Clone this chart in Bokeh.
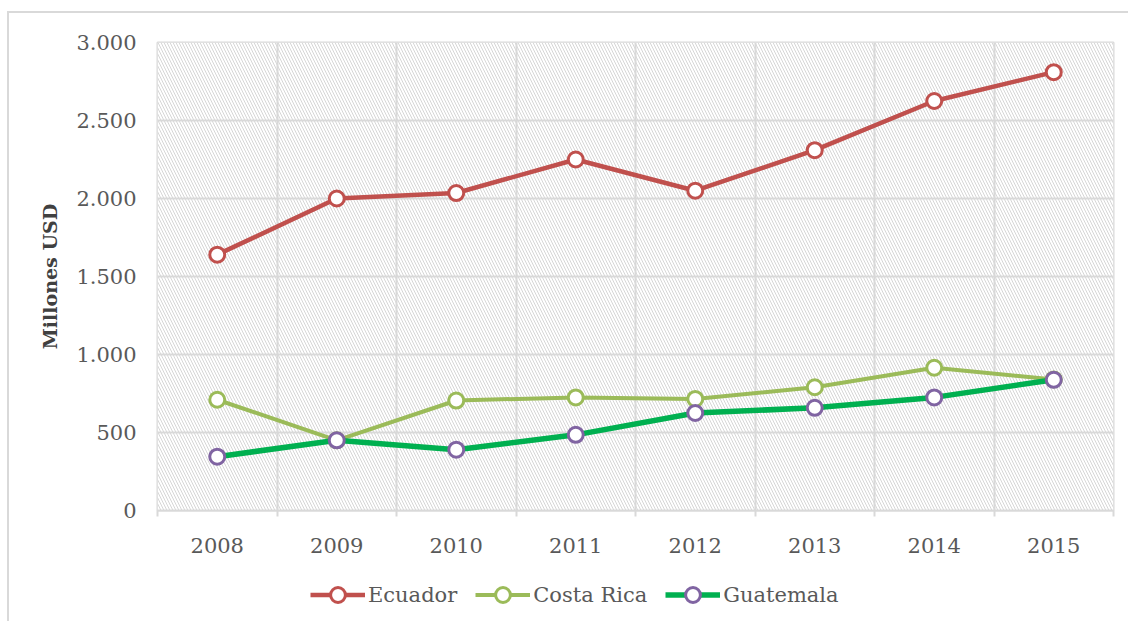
from bokeh.plotting import figure
from bokeh.layouts import column
from bokeh.models import (Range1d, FixedTicker, BoxAnnotation, Legend, LegendItem,
                          ColumnDataSource)
from bokeh.embed import file_html
from bokeh.resources import INLINE

years = ["2008", "2009", "2010", "2011", "2012", "2013", "2014", "2015"]
ecuador = [1640, 2000, 2035, 2250, 2050, 2310, 2625, 2810]
costa_rica = [710, 450, 705, 725, 715, 790, 915, 840]
guatemala = [345, 450, 390, 485, 625, 658, 725, 838]
y_ticks = [0, 500, 1000, 1500, 2000, 2500, 3000]
y_tick_labels = ["0", "500", "1.000", "1.500", "2.000", "2.500", "3.000"]
series_names = ["Ecuador", "Costa Rica", "Guatemala"]

FONT = "DejaVu Serif"
GRID = "#d9d9d9"

xpos = [i + 0.5 for i in range(len(years))]

p = figure(width=1119, height=555, output_backend="svg", toolbar_location=None,
           x_range=Range1d(0, len(years)), y_range=Range1d(0, 3000),
           frame_width=956, frame_height=468,
           min_border_left=148, min_border_top=29, min_border_right=15, min_border_bottom=58)
p.outline_line_color = GRID
p.outline_line_width = 2
p.background_fill_color = "white"
p.border_fill_color = "white"

# hatched plot background
bg = BoxAnnotation(left=0, right=len(years), bottom=0, top=3000, fill_color="white",
                   fill_alpha=1.0, line_color=None, hatch_pattern="\\",
                   hatch_color="#d6d6d6", hatch_scale=6, hatch_weight=1, level="image")
p.add_layout(bg)

# x axis
p.xaxis.ticker = FixedTicker(ticks=xpos, minor_ticks=list(range(len(years) + 1)))
p.xaxis.major_label_overrides = {x: y for x, y in zip(xpos, years)}
p.xaxis.major_tick_line_color = None
p.xaxis.major_tick_out = 0
p.xaxis.major_tick_in = 0
p.xaxis.minor_tick_line_color = GRID
p.xaxis.minor_tick_line_width = 2
p.xaxis.minor_tick_out = 6
p.xaxis.minor_tick_in = 0
p.xaxis.axis_line_color = GRID
p.xaxis.axis_line_width = 2
p.xaxis.major_label_standoff = 21
p.xaxis.major_label_text_font = FONT
p.xaxis.major_label_text_font_size = "21px"
p.xaxis.major_label_text_color = "#595959"

# y axis
p.yaxis.ticker = FixedTicker(ticks=y_ticks)
p.yaxis.major_label_overrides = {t: l for t, l in zip(y_ticks, y_tick_labels)}
p.yaxis.major_tick_line_color = None
p.yaxis.major_tick_out = 0
p.yaxis.major_tick_in = 0
p.yaxis.minor_tick_line_color = None
p.yaxis.axis_line_color = None
p.yaxis.major_label_standoff = 21
p.yaxis.major_label_text_font = FONT
p.yaxis.major_label_text_font_size = "21px"
p.yaxis.major_label_text_color = "#595959"
p.yaxis.axis_label = "Millones USD"
p.yaxis.axis_label_text_font = FONT
p.yaxis.axis_label_text_font_style = "bold"
p.yaxis.axis_label_text_font_size = "19px"
p.yaxis.axis_label_text_color = "#404040"
p.yaxis.axis_label_standoff = 12

# grids
p.xgrid.ticker = FixedTicker(ticks=list(range(len(years) + 1)))
p.xgrid.grid_line_color = GRID
p.xgrid.grid_line_width = 2
p.ygrid.ticker = FixedTicker(ticks=y_ticks)
p.ygrid.grid_line_color = GRID
p.ygrid.grid_line_width = 2

line_colors = ["#C0504D", "#9BBB59", "#00B050"]
marker_colors = ["#C0504D", "#9BBB59", "#8064A2"]
widths = [4.5, 4, 5.5]
datasets = [ecuador, costa_rica, guatemala]

# legend strip below the chart (its y range keeps the proxy series out of view)
leg = figure(width=1119, height=53, output_backend="svg", toolbar_location=None,
             x_range=Range1d(0, len(years)), y_range=Range1d(-2, -1),
             x_axis_type=None, y_axis_type=None, min_border=0)
leg.outline_line_color = None
leg.background_fill_color = "white"
leg.border_fill_color = "white"

items = []
for name, vals, lc, mc, w in zip(series_names, datasets, line_colors, marker_colors, widths):
    src = ColumnDataSource(dict(x=xpos, y=vals))
    p.line("x", "y", source=src, line_color=lc, line_width=w)
    p.scatter("x", "y", source=src, marker="circle", size=15, fill_color="white",
              line_color=mc, line_width=3)
    # legend glyph proxies with the same styling, drawn outside the strip's view
    l1 = leg.line("x", "y", source=src, line_color=lc, line_width=w)
    l2 = leg.scatter("x", "y", source=src, marker="circle", size=15, fill_color="white",
                     line_color=mc, line_width=3)
    items.append(LegendItem(label=name, renderers=[l1, l2]))

legend = Legend(items=items, orientation="horizontal", location=(153, 8),
                glyph_width=55, glyph_height=37, label_standoff=3, spacing=18,
                label_text_font=FONT, label_text_font_size="21px",
                label_text_color="#595959", border_line_color=None,
                background_fill_alpha=0, padding=0, margin=0)
leg.add_layout(legend, "center")

layout = column(p, leg, spacing=0, margin=(11, 0, 0, 7),
                styles={"border-top": "2px solid #d9d9d9", "border-left": "2px solid #d9d9d9"})

open("out.html", "w").write(file_html(layout, INLINE))
